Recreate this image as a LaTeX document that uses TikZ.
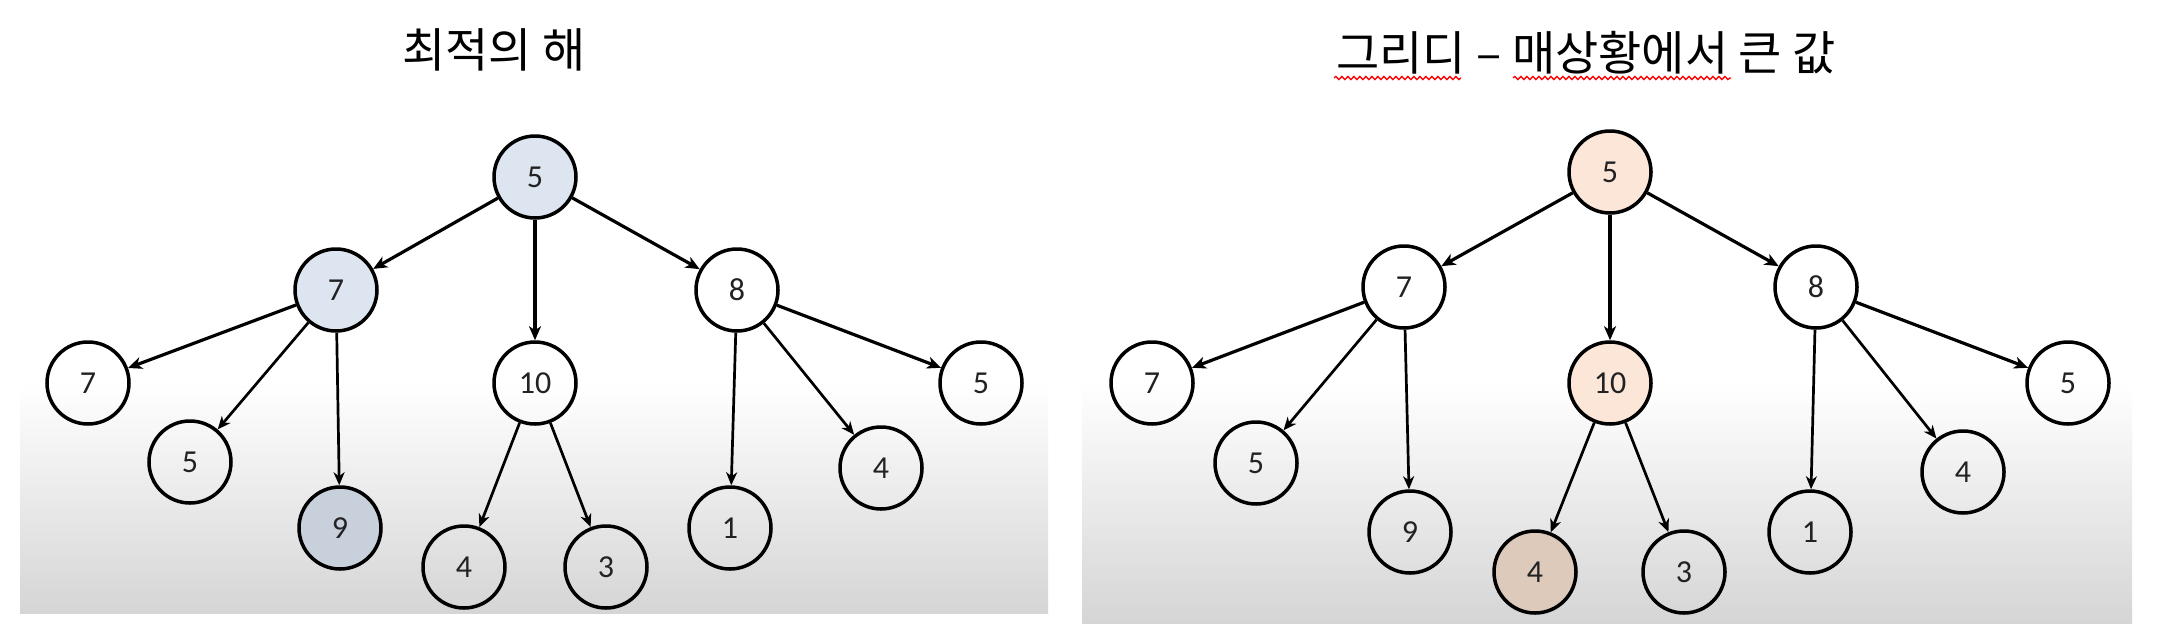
\documentclass[tikz,border=0pt]{standalone}
\usepackage{fontspec}
\setmainfont{Carlito}
\newfontfamily\krfont{Noto Sans CJK KR}
\usetikzlibrary{arrows.meta,decorations.pathmorphing}
\definecolor{panelbot}{RGB}{213,213,213}
\definecolor{blueA}{RGB}{221,229,241}
\definecolor{blueB}{RGB}{200,208,220}
\definecolor{peachA}{RGB}{252,230,216}
\definecolor{peachB}{RGB}{221,202,187}
\definecolor{numtext}{RGB}{34,34,34}
\begin{document}
\begin{tikzpicture}[x=1pt,y=-1pt,
  tn/.style={circle,draw=black,line width=3.5pt,minimum size=82pt,inner sep=0pt,
    font=\fontsize{32}{32}\selectfont,text=numtext},
  arrtop/.style={line width=3.2pt,-{Stealth[length=14pt,width=12pt,inset=4pt]}},
  arrlow/.style={line width=2.7pt,-{Stealth[length=13pt,width=11pt,inset=4pt]}},
  title/.style={inner sep=0pt,font=\krfont\fontsize{47}{47}\selectfont},
  squig/.style={draw=red,line width=1.3pt,decorate,
    decoration={snake,amplitude=1.6pt,segment length=6pt}}]
\useasboundingbox (0,0) rectangle (2162,630);
\fill[white] (0,0) rectangle (2162,630);
% panels
\shade[top color=white,bottom color=panelbot] (20,383) rectangle (1048,613);
\shade[top color=white,bottom color=panelbot] (1082,383) rectangle (2132,623);

% titles
\node[title] (t1) at (494,50) {최적의 해};
\node[title] (t2) at (1586,53) {그리디 – 매상황에서 큰 값};
\coordinate (s1a) at (1334,78);
\coordinate (s1b) at (1461,78);
\coordinate (s2a) at (1513,78);
\coordinate (s2b) at (1731,78);
\path[squig] (s1a) -- (s1b);
\path[squig] (s2a) -- (s2b);

% left tree
\node[tn,fill=blueA] (L0) at (535,177) {5};
\node[tn,fill=blueA] (L1) at (336,290) {7};
\node[tn] (L2) at (535,383) {10};
\node[tn] (L3) at (737,290) {8};
\node[tn] (L4) at (88,383) {7};
\node[tn] (L5) at (190,462) {5};
\node[tn,fill=blueB] (L6) at (340,528) {9};
\node[tn] (L7) at (464,567) {4};
\node[tn] (L8) at (606,567) {3};
\node[tn] (L9) at (730,528) {1};
\node[tn] (L10) at (881,468) {4};
\node[tn] (L11) at (981,383) {5};

\draw[arrtop] (L0) -- (L1);
\draw[arrtop] (L0) -- (L2);
\draw[arrtop] (L0) -- (L3);
\draw[arrtop] (L1) -- (L4);
\draw[arrlow] (L1) -- (L5);
\draw[arrlow] (L1) -- (L6);
\draw[arrlow] (L2) -- (L7);
\draw[arrlow] (L2) -- (L8);
\draw[arrlow] (L3) -- (L9);
\draw[arrlow] (L3) -- (L10);
\draw[arrtop] (L3) -- (L11);

% right tree
\node[tn,fill=peachA] (R0) at (1610,172) {5};
\node[tn] (R1) at (1404,287) {7};
\node[tn,fill=peachA] (R2) at (1610,383) {10};
\node[tn] (R3) at (1816,287) {8};
\node[tn] (R4) at (1152,383) {7};
\node[tn] (R5) at (1256,463) {5};
\node[tn] (R6) at (1410,532) {9};
\node[tn,fill=peachB] (R7) at (1535,572) {4};
\node[tn] (R8) at (1684,572) {3};
\node[tn] (R9) at (1810,532) {1};
\node[tn] (R10) at (1963,472) {4};
\node[tn] (R11) at (2068,383) {5};

\draw[arrtop] (R0) -- (R1);
\draw[arrtop] (R0) -- (R2);
\draw[arrtop] (R0) -- (R3);
\draw[arrtop] (R1) -- (R4);
\draw[arrlow] (R1) -- (R5);
\draw[arrlow] (R1) -- (R6);
\draw[arrlow] (R2) -- (R7);
\draw[arrlow] (R2) -- (R8);
\draw[arrlow] (R3) -- (R9);
\draw[arrlow] (R3) -- (R10);
\draw[arrtop] (R3) -- (R11);
\end{tikzpicture}
\end{document}
